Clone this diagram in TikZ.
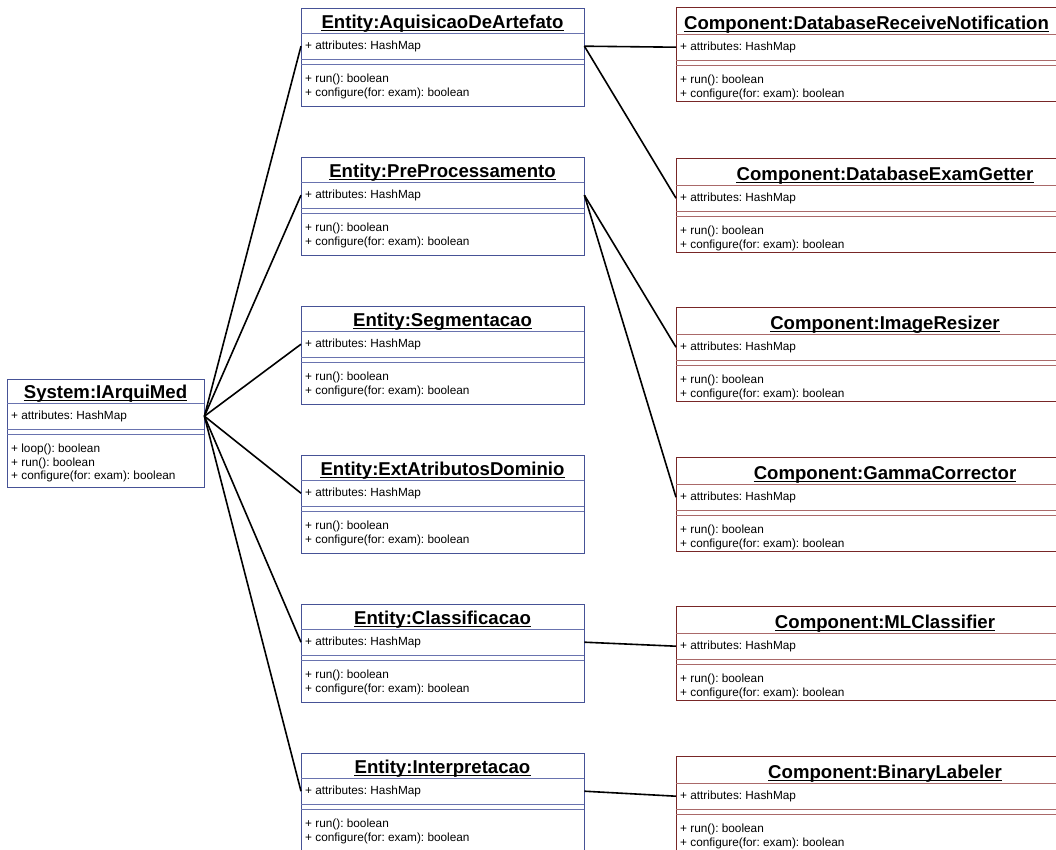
\documentclass[tikz,border=0pt]{standalone}
\usepackage{fontspec}
\setmainfont{Liberation Sans}
\frenchspacing
\definecolor{entc}{RGB}{70,82,150}
\definecolor{entcl}{RGB}{105,115,175}
\definecolor{compc}{RGB}{120,38,38}
\definecolor{compcl}{RGB}{170,105,105}
\tikzset{
  entout/.style={draw=entc, line width=0.9pt},
  entin/.style={draw=entcl, line width=0.8pt},
  compout/.style={draw=compc, line width=0.9pt},
  compin/.style={draw=compcl, line width=0.8pt},
  titletext/.style={font=\fontsize{18.6}{20}\selectfont\bfseries, inner sep=0pt, text=black},
  smalltext/.style={font=\fontsize{11.8}{13.5}\selectfont\frenchspacing, inner sep=0pt, text=black},
  rowbox/.style={inner sep=0pt, minimum height=26pt, draw=none},
  conn/.style={draw=black, line width=1.6pt},
}
% #1 name #2 x #3 top #4 width #5 height #6 title height #7 style prefix #8 title #9 methods
\newcommand\umlbox[9]{%
  \draw[#7out] (#2,#3) rectangle ++(#4,#5);
  \node[titletext, anchor=base] (#1t) at ({#2+#4/2},{#3+#6-4.5}) {#8};
  \draw[line width=1.1pt] ([yshift=-2pt]#1t.base west) -- ([yshift=-2pt]#1t.base east);
  \draw[#7in] (#2,{#3+#6}) -- ++(#4,0);
  \node[rowbox, minimum width=#4, anchor=north west] (#1) at (#2,{#3+#6}) {};
  \node[smalltext, anchor=west] (#1x) at ({#2+4},{#3+#6+13}) {+ attributes: HashMap};
  \draw[#7in] (#2,{#3+#6+26}) -- ++(#4,0);
  \draw[#7in] (#2,{#3+#6+31}) -- ++(#4,0);
  \node[smalltext, anchor=north west, align=left] (#1m) at ({#2+4},{#3+#6+41}) {#9};
}
\newcommand\meth{+ run(): boolean\\+ configure(for: exam): boolean}
\begin{document}
\begin{tikzpicture}[x=1pt,y=-1pt]
\clip (0,0) rectangle (1056,850);
\fill[white] (0,0) rectangle (1056,850);
% system
\umlbox{sys}{7}{379}{197}{108}{24}{ent}{System:IArquiMed}{+ loop(): boolean\\+ run(): boolean\\+ configure(for: exam): boolean}
% entities
\umlbox{e1}{301}{8}{283}{98}{25}{ent}{Entity:AquisicaoDeArtefato}{\meth}
\umlbox{e2}{301}{157}{283}{98}{25}{ent}{Entity:PreProcessamento}{\meth}
\umlbox{e3}{301}{306}{283}{98}{25}{ent}{Entity:Segmentacao}{\meth}
\umlbox{e4}{301}{455}{283}{98}{25}{ent}{Entity:ExtAtributosDominio}{\meth}
\umlbox{e5}{301}{604}{283}{98}{25}{ent}{Entity:Classificacao}{\meth}
\umlbox{e6}{301}{753}{283}{98}{25}{ent}{Entity:Interpretacao}{\meth}
% components
\umlbox{c1}{676}{7}{381}{94}{27}{comp}{Component:DatabaseReceiveNotification}{\meth}
\umlbox{c2}{676}{158}{418}{94}{27}{comp}{Component:DatabaseExamGetter}{\meth}
\umlbox{c3}{676}{307}{418}{94}{27}{comp}{Component:ImageResizer}{\meth}
\umlbox{c4}{676}{457}{418}{94}{27}{comp}{Component:GammaCorrector}{\meth}
\umlbox{c5}{676}{606}{418}{94}{27}{comp}{Component:MLClassifier}{\meth}
\umlbox{c6}{676}{756}{418}{94}{27}{comp}{Component:BinaryLabeler}{\meth}
% connectors
\foreach \e in {e1,e2,e3,e4,e5,e6}{\draw[conn] (sys.east) -- (\e.west);}
\draw[conn] (e1.east) -- (c1.west);
\draw[conn] (e1.east) -- (c2.west);
\draw[conn] (e2.east) -- (c3.west);
\draw[conn] (e2.east) -- (c4.west);
\draw[conn] (e5.east) -- (c5.west);
\draw[conn] (e6.east) -- (c6.west);
\end{tikzpicture}
\end{document}
